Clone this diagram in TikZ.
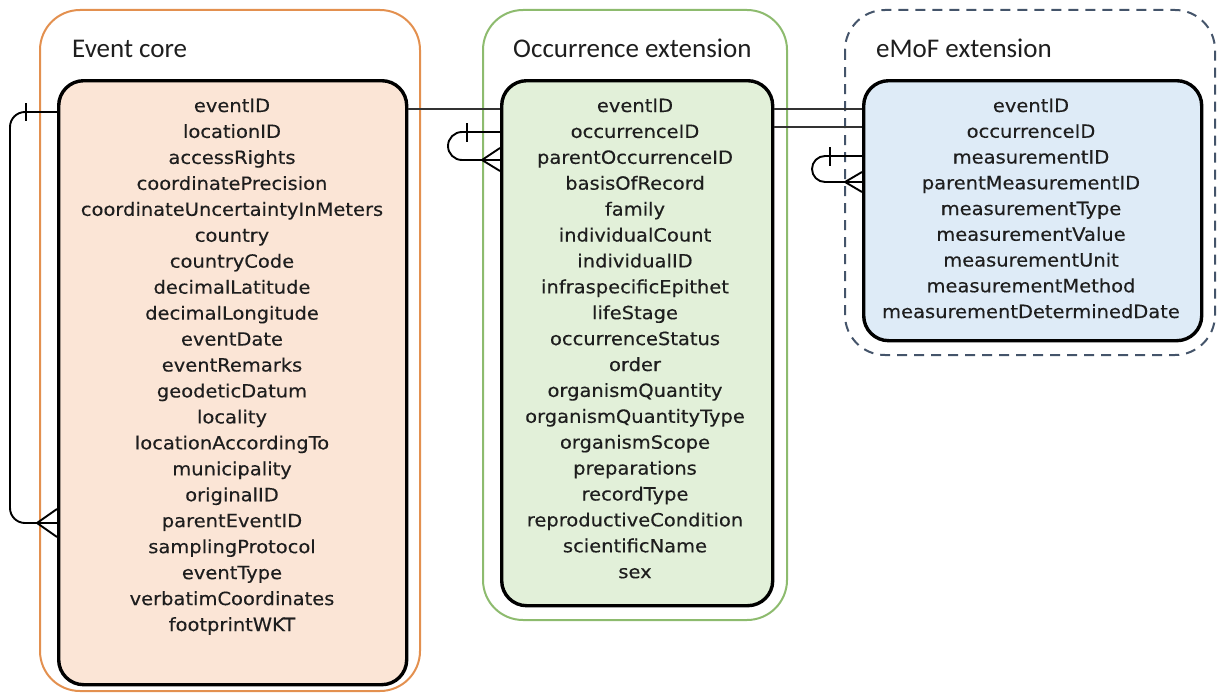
\documentclass[tikz,border=0pt]{standalone}
\usepackage{fontspec}
\setmainfont[FakeStretch=1.07,FakeBold=0.3]{DejaVu Sans}
\newfontfamily\titlefont{Carlito}
\usetikzlibrary{calc}
\definecolor{txt}{HTML}{1E1E1E}
\definecolor{orangeline}{HTML}{E3904F}
\definecolor{greenline}{HTML}{8DBB6E}
\definecolor{blueline}{HTML}{44546A}
\definecolor{evfill}{HTML}{FBE5D6}
\definecolor{ocfill}{HTML}{E2F0D9}
\definecolor{emfill}{HTML}{DEEBF7}
\tikzset{
  outerbox/.style={line width=2pt, rounded corners=40pt},
  tablebox/.style={draw=black, line width=3.4pt, rounded corners=25pt, rectangle, inner sep=0pt, anchor=north west},
  field/.style={font=\fontsize{18.2}{22}\selectfont, text=txt, anchor=base, inner sep=0pt},
  grouptitle/.style={font=\titlefont\fontsize{27}{32}\selectfont, text=txt, anchor=base west, inner sep=0pt},
  conn/.style={draw=black, line width=1.9pt},
  connthin/.style={draw=black!80, line width=1.4pt},
}
\begin{document}
\begin{tikzpicture}[x=1pt,y=-1pt]
\useasboundingbox (0,0) rectangle (1217,693);
% outer group frames
\draw[outerbox, draw=orangeline] (40,10) rectangle (420,691);
\draw[outerbox, draw=greenline] (483,10) rectangle (787,620);
\draw[outerbox, draw=blueline, dash pattern=on 10pt off 7pt] (845,10) rectangle (1215,355);
% titles
\node[grouptitle] (t1) at (72,57) {Event core};
\node[grouptitle] (t2) at (513,57) {Occurrence extension};
\node[grouptitle] (t3) at (876,57) {eMoF extension};
% tables
\node[tablebox, fill=evfill, minimum width=348pt, minimum height=604pt] (ev) at (57,79) {};
\node[tablebox, fill=ocfill, minimum width=271pt, minimum height=525pt] (oc) at (500,79) {};
\node[tablebox, fill=emfill, minimum width=338pt, minimum height=260pt] (em) at (862,79) {};
% fields
\foreach \t [count=\i] in {eventID,locationID,accessRights,coordinatePrecision,coordinateUncertaintyInMeters,country,countryCode,decimalLatitude,decimalLongitude,eventDate,eventRemarks,geodeticDatum,locality,locationAccordingTo,municipality,originalID,parentEventID,samplingProtocol,eventType,verbatimCoordinates,footprintWKT}
  \node[field] (ev\i) at (232,{112+25.95*(\i-1)}) {\t};
\foreach \t [count=\i] in {eventID,occurrenceID,parentOccurrenceID,basisOfRecord,family,individualCount,individualID,infraspecificEpithet,lifeStage,occurrenceStatus,order,organismQuantity,organismQuantityType,organismScope,preparations,recordType,reproductiveCondition,scientificName,sex}
  \node[field] (oc\i) at (635,{112+25.9*(\i-1)}) {\t};
\foreach \t [count=\i] in {eventID,occurrenceID,measurementID,parentMeasurementID,measurementType,measurementValue,measurementUnit,measurementMethod,measurementDeterminedDate}
  \node[field] (em\i) at (1031,{112+25.75*(\i-1)}) {\t};
% connection points
\coordinate (evA) at ($(ev.north west)+(0,33)$);
\coordinate (evB) at ($(ev.north west)+(0,444)$);
\coordinate (ocA) at ($(oc.north west)+(0,53)$);
\coordinate (ocB) at ($(oc.north west)+(0,81)$);
\coordinate (emA) at ($(em.north west)+(0,77)$);
\coordinate (emB) at ($(em.north west)+(0,103)$);
% event self relation
\draw[conn, rounded corners=15pt] (evA) -- ++(-47,0) |- (evB);
\draw[conn] ($(evA)+(-31,-9)$) -- ++(0,18);
\draw[conn] ($(evB)+(0,-14)$) -- ($(evB)+(-20,0)$) -- ($(evB)+(0,14)$);
% event - occurrence
\draw[connthin] ($(ev.north east)+(0,30)$) -- ($(oc.north west)+(0,30)$);
% occurrence self relation
\draw[conn, rounded corners=14pt] (ocA) -- ++(-52,0) |- (ocB);
\draw[conn] ($(ocA)+(-33,-9)$) -- ++(0,19);
\draw[conn] ($(ocB)+(0,-12)$) -- ($(ocB)+(-18,0)$) -- ($(ocB)+(0,11)$);
% occurrence - emof
\draw[connthin] ($(oc.north east)+(0,30)$) -- ($(em.north west)+(0,30)$);
\draw[connthin] ($(oc.north east)+(0,48)$) -- ($(em.north west)+(0,48)$);
% emof self relation
\draw[conn, rounded corners=13pt] (emA) -- ++(-50,0) |- (emB);
\draw[conn] ($(emA)+(-32,-9)$) -- ++(0,19);
\draw[conn] ($(emB)+(0,-10)$) -- ($(emB)+(-17,0)$) -- ($(emB)+(0,10)$);
\end{tikzpicture}
\end{document}
